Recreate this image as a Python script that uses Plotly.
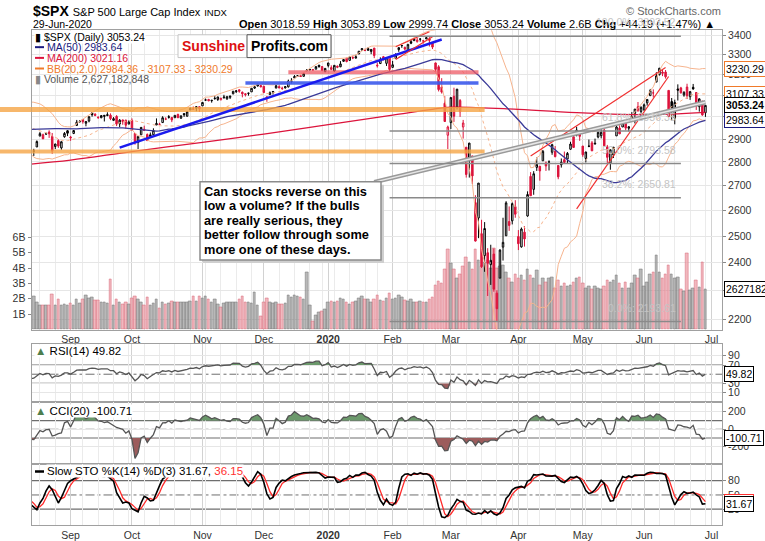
import numpy as np
import pandas as pd
import plotly.graph_objects as go

W, H = 765, 541
FONT = "Arial, Liberation Sans, sans-serif"
RED = "#dc143c"

# ---- trading calendar (NYSE holidays inside the window)
holidays = ["2019-07-04", "2019-09-02", "2019-11-28", "2019-12-25",
            "2020-01-01", "2020-01-20", "2020-02-17", "2020-04-10", "2020-05-25"]
dates = pd.bdate_range("2019-06-03", "2020-06-29", freq="C", holidays=holidays)

# ---- daily OHLC, one line per month (Jun 2019 .. Jun 2020)
open_ = [
    2752, 2763, 2818, 2829, 2853, 2886, 2903, 2883, 2886, 2887, 2890, 2907, 2921, 2950, 2953, 2951, 2946, 2926, 2920, 2933,
    2971, 2965, 2978, 2984, 2980, 2966, 2989, 3000, 3003, 3018, 3012, 3005, 2979, 3004, 2982, 2995, 2999, 3016, 3013, 3024, 3008, 3016,
    2980, 2944, 2898, 2861, 2859, 2896, 2931, 2907, 2881, 2894, 2846, 2865, 2913, 2919, 2922, 2931, 2911, 2867, 2893, 2861, 2910, 2937,
    2909, 2925, 2961, 2980, 2988, 2971, 2981, 3018, 3012, 2996, 2996, 3002, 3010, 3008, 2984, 3002, 2968, 2986, 2985, 2967,
    2984, 2925, 2885, 2919, 2944, 2920, 2911, 2919, 2963, 2966, 2974, 2990, 3001, 2997, 2996, 3011, 2994, 3015, 3003, 3032, 3035, 3040, 3047,
    3051, 3079, 3081, 3075, 3087, 3081, 3080, 3089, 3084, 3091, 3108, 3118, 3127, 3115, 3108, 3111, 3117, 3135, 3145, 3147,
    3144, 3087, 3104, 3119, 3135, 3142, 3135, 3136, 3141, 3167, 3184, 3195, 3195, 3192, 3223, 3226, 3225, 3227, 3247, 3240, 3215,
    3245, 3226, 3218, 3242, 3239, 3266, 3282, 3271, 3285, 3282, 3303, 3324, 3321, 3330, 3316, 3333, 3247, 3255, 3289, 3256, 3282,
    3236, 3281, 3325, 3345, 3336, 3318, 3366, 3371, 3366, 3378, 3369, 3380, 3380, 3361, 3258, 3239, 3140, 3063, 2917,
    2974, 3096, 3046, 3076, 2954, 2864, 2813, 2826, 2631, 2570, 2509, 2426, 2437, 2393, 2432, 2291, 2344, 2458, 2501, 2556, 2559, 2615,
    2498, 2459, 2515, 2578, 2739, 2685, 2777, 2782, 2805, 2796, 2799, 2842, 2846, 2785, 2788, 2810, 2813, 2855, 2910, 2918, 2931,
    2869, 2815, 2869, 2883, 2878, 2909, 2915, 2940, 2866, 2795, 2830, 2914, 2949, 2954, 2970, 2948, 3004, 3016, 3047, 3025,
    3031, 3065, 3099, 3112, 3164, 3200, 3213, 3213, 3124, 3071, 2994, 3131, 3136, 3102, 3140, 3094, 3139, 3114, 3047, 3073, 3019,
]
high = [
    2763, 2804, 2827, 2852, 2885, 2905, 2911, 2889, 2895, 2894, 2897, 2931, 2932, 2958, 2964, 2955, 2947, 2933, 2929, 2944,
    2978, 2973, 2996, 2994, 2981, 2982, 3003, 3002, 3014, 3018, 3015, 3005, 2998, 3006, 2991, 3006, 3020, 3016, 3028, 3026, 3017, 3017,
    3014, 2946, 2898, 2884, 2892, 2939, 2936, 2908, 2943, 2894, 2857, 2894, 2931, 2924, 2929, 2939, 2927, 2879, 2899, 2890, 2931, 2940,
    2914, 2939, 2986, 2985, 2989, 2979, 3001, 3021, 3017, 3002, 3006, 3008, 3021, 3016, 2999, 3008, 2990, 2987, 2987, 2984,
    2993, 2925, 2911, 2954, 2960, 2925, 2929, 2948, 2993, 2973, 3003, 2998, 3008, 3000, 3007, 3015, 3005, 3016, 3027, 3044, 3048, 3050, 3047,
    3067, 3085, 3084, 3078, 3098, 3093, 3088, 3103, 3098, 3098, 3120, 3124, 3128, 3119, 3110, 3113, 3134, 3143, 3154, 3150,
    3144, 3095, 3119, 3119, 3151, 3149, 3142, 3144, 3176, 3183, 3198, 3198, 3198, 3205, 3226, 3228, 3226, 3240, 3248, 3241, 3232,
    3258, 3246, 3247, 3245, 3267, 3276, 3283, 3288, 3294, 3299, 3317, 3330, 3330, 3338, 3327, 3333, 3259, 3286, 3293, 3286, 3282,
    3268, 3307, 3338, 3348, 3341, 3352, 3376, 3381, 3385, 3381, 3375, 3394, 3389, 3361, 3260, 3247, 3183, 3097, 2960,
    3091, 3137, 3131, 3083, 2986, 2864, 2883, 2826, 2661, 2711, 2563, 2554, 2454, 2467, 2453, 2301, 2450, 2571, 2637, 2616, 2632, 2641,
    2523, 2533, 2538, 2677, 2757, 2761, 2819, 2782, 2852, 2802, 2807, 2879, 2869, 2786, 2815, 2845, 2843, 2888, 2921, 2955, 2931,
    2869, 2844, 2898, 2891, 2902, 2932, 2944, 2946, 2874, 2853, 2865, 2968, 2964, 2980, 2979, 2957, 3022, 3036, 3069, 3049,
    3062, 3081, 3131, 3129, 3212, 3233, 3223, 3223, 3124, 3088, 3080, 3153, 3141, 3120, 3156, 3121, 3155, 3115, 3086, 3074, 3054,
]
low = [
    2729, 2755, 2801, 2822, 2853, 2886, 2879, 2875, 2882, 2880, 2887, 2905, 2911, 2932, 2947, 2944, 2916, 2913, 2919, 2929,
    2952, 2956, 2978, 2968, 2970, 2963, 2985, 2989, 3002, 3009, 3001, 2984, 2973, 2976, 2977, 2989, 2997, 2997, 3013, 3014, 3001, 2958,
    2945, 2914, 2822, 2847, 2826, 2894, 2900, 2873, 2877, 2840, 2826, 2865, 2913, 2900, 2918, 2905, 2835, 2856, 2861, 2853, 2906, 2913,
    2892, 2922, 2961, 2973, 2969, 2957, 2975, 3001, 3003, 2991, 2994, 2979, 3003, 2985, 2982, 2958, 2953, 2964, 2946, 2967,
    2939, 2875, 2856, 2919, 2936, 2893, 2907, 2917, 2963, 2963, 2974, 2985, 2992, 2976, 2995, 2995, 2991, 3000, 3002, 3032, 3035, 3026, 3023,
    3051, 3075, 3072, 3066, 3080, 3074, 3076, 3085, 3079, 3083, 3105, 3112, 3113, 3091, 3095, 3099, 3117, 3131, 3143, 3139,
    3111, 3070, 3103, 3104, 3135, 3135, 3126, 3133, 3138, 3157, 3184, 3191, 3191, 3192, 3216, 3222, 3221, 3227, 3234, 3217, 3212,
    3236, 3222, 3215, 3232, 3237, 3264, 3261, 3268, 3277, 3281, 3303, 3319, 3317, 3320, 3302, 3282, 3235, 3253, 3272, 3243, 3215,
    3236, 3281, 3314, 3334, 3322, 3318, 3353, 3370, 3361, 3366, 3356, 3379, 3341, 3328, 3215, 3119, 3109, 2977, 2856,
    2945, 2977, 3034, 3000, 2902, 2734, 2734, 2707, 2479, 2492, 2381, 2367, 2281, 2320, 2296, 2192, 2344, 2408, 2501, 2520, 2545, 2571,
    2447, 2456, 2460, 2575, 2658, 2663, 2762, 2721, 2805, 2762, 2764, 2831, 2820, 2727, 2776, 2794, 2792, 2853, 2861, 2912, 2892,
    2822, 2798, 2864, 2848, 2876, 2903, 2903, 2870, 2793, 2767, 2817, 2914, 2922, 2954, 2939, 2934, 2988, 2970, 3023, 2999,
    3031, 3052, 3099, 3090, 3164, 3196, 3193, 3181, 2999, 2984, 2966, 3076, 3108, 3094, 3083, 3079, 3127, 3032, 3024, 3005, 3000,
]
close = [
    2744, 2803, 2826, 2843, 2873, 2887, 2886, 2880, 2892, 2887, 2890, 2918, 2926, 2954, 2950, 2945, 2917, 2914, 2925, 2942,
    2964, 2973, 2996, 2990, 2976, 2980, 2993, 3000, 3014, 3014, 3004, 2984, 2995, 2977, 2985, 3005, 3020, 3004, 3026, 3021, 3013, 2980,
    2954, 2932, 2845, 2882, 2884, 2938, 2919, 2883, 2926, 2841, 2848, 2889, 2924, 2901, 2924, 2923, 2847, 2878, 2869, 2888, 2925, 2926,
    2906, 2938, 2976, 2979, 2978, 2979, 3001, 3010, 3007, 2998, 3006, 3007, 3007, 2992, 2992, 2967, 2985, 2978, 2962, 2977,
    2940, 2888, 2911, 2952, 2939, 2893, 2919, 2938, 2970, 2966, 2996, 2990, 2998, 2986, 3007, 2996, 3005, 3010, 3023, 3039, 3037, 3047, 3038,
    3067, 3078, 3075, 3077, 3085, 3093, 3087, 3092, 3094, 3097, 3120, 3122, 3120, 3108, 3104, 3110, 3134, 3141, 3154, 3141,
    3114, 3093, 3113, 3117, 3146, 3136, 3133, 3142, 3169, 3169, 3191, 3193, 3191, 3205, 3221, 3224, 3223, 3240, 3240, 3221, 3231,
    3258, 3235, 3246, 3237, 3253, 3275, 3265, 3288, 3283, 3289, 3317, 3330, 3321, 3322, 3326, 3295, 3244, 3276, 3273, 3284, 3226,
    3249, 3298, 3335, 3346, 3328, 3352, 3358, 3379, 3374, 3380, 3370, 3386, 3373, 3338, 3226, 3128, 3116, 2979, 2954,
    3090, 3003, 3130, 3024, 2972, 2747, 2882, 2741, 2481, 2711, 2386, 2529, 2398, 2409, 2305, 2237, 2447, 2476, 2630, 2541, 2627, 2585,
    2471, 2527, 2489, 2664, 2659, 2750, 2790, 2762, 2846, 2783, 2800, 2875, 2823, 2737, 2799, 2798, 2837, 2878, 2863, 2940, 2912,
    2831, 2843, 2868, 2848, 2881, 2930, 2930, 2870, 2820, 2853, 2864, 2954, 2923, 2972, 2949, 2955, 2992, 3036, 3030, 3044,
    3056, 3081, 3123, 3112, 3194, 3232, 3207, 3190, 3002, 3041, 3067, 3125, 3113, 3115, 3098, 3118, 3131, 3050, 3084, 3009, 3053.24,
]

# ---- volume in billions, from 2019-08-13
vol_start = "2019-08-13"
volume_b = [
    2.05, 2.35, 2.15, 1.75, 1.6, 1.6, 1.55, 1.6, 2.3, 1.55, 1.95, 1.6, 1.65, 1.6,
    1.7, 1.6, 1.95, 1.7, 1.95, 2.25, 2.05, 2.1, 1.9, 1.9, 1.75, 1.8, 1.7, 3.26, 1.6, 2.0, 1.8, 1.65, 1.75, 1.65,
    2.05, 2.15, 2.0, 1.75, 1.6, 2.1, 1.6, 1.7, 1.95, 1.4, 1.75, 1.65, 1.7, 1.85, 1.75, 1.8, 1.75, 1.8, 1.8, 1.85, 2.15, 1.85, 2.15,
    2.05, 2.15, 2.0, 1.8, 1.95, 1.65, 1.45, 1.7, 1.75, 1.75, 1.8, 1.8, 1.95, 2.15, 1.8, 1.75, 1.7, 2.45, 1.6, 0.85,
    1.75, 2.05, 1.75, 1.7, 1.75, 1.65, 1.65, 1.7, 2.2, 2.1, 2.2, 2.15, 2.1, 1.95, 3.7, 1.6, 0.55, 0.95, 1.1, 1.2, 1.3,
    1.75, 1.85, 1.8, 1.85, 2.05, 1.95, 1.75, 1.65, 1.8, 1.85, 2.05, 2.15, 1.95, 2.0, 1.75, 2.0, 2.25, 1.9, 1.85, 2.05, 2.35,
    2.0, 2.05, 2.2, 2.1, 1.9, 1.85, 1.95, 1.8, 1.75, 1.85, 1.8, 1.75, 2.0, 2.1, 2.9, 3.15, 3.0, 3.9, 5.2,
    4.3, 3.9, 3.3, 3.6, 4.1, 4.7, 4.4, 3.9, 5.2, 4.5, 4.1, 4.35, 4.5, 4.0, 5.3, 4.0, 4.1, 4.2, 3.7, 3.3, 3.1, 3.6,
    3.3, 3.5, 3.2, 3.9, 3.5, 3.3, 3.85, 2.9, 3.3, 3.1, 3.3, 3.4, 2.7, 3.2, 2.8, 3.0, 2.8, 2.9, 3.1, 3.3, 3.4,
    3.0, 2.7, 2.8, 2.6, 2.8, 2.7, 2.6, 2.8, 3.2, 3.1, 3.2, 3.5, 3.0, 2.7, 3.1, 2.7, 3.0, 3.55, 3.3, 3.9,
    2.8, 3.1, 3.6, 3.7, 4.8, 3.7, 3.3, 3.6, 4.2, 3.6, 3.3, 3.4, 2.6, 2.5, 4.95, 2.55, 2.7, 3.2, 2.75, 4.4, 2.627,
]

# ---- 200-day MA (its look-back is older than the data above)
ma200_dates = ["2019-08-13", "2019-09-03", "2019-10-01", "2019-11-01", "2019-12-02", "2020-01-02",
               "2020-02-03", "2020-02-21", "2020-03-02", "2020-04-01", "2020-05-01", "2020-06-01", "2020-06-29"]
ma200_vals = [2790, 2808, 2845, 2885, 2922, 2965, 3008, 3035, 3045, 3035, 3018, 3010, 3021.16]

# ---- drawn annotations: horizontal levels (price, from, to), trend lines, fibonacci
h_levels = [  # (price, start date or None = left edge, end date, colour, width)
    (3034, None, "2020-03-17", "rgba(245,165,70,0.8)", 5),
    (2845, None, "2020-03-17", "rgba(245,165,70,0.8)", 4),
    (3212, "2019-12-12", "2020-03-13", "rgba(238,90,100,0.75)", 4),
    (3159, "2019-11-21", "2020-03-13", "rgba(60,90,235,0.9)", 3.5),
]
trend_lines = [  # (d0, p0, d1, p1, colour, width)
    ("2019-09-25", 2862, "2020-02-26", 3377, "#1a1aee", 2.5),
    ("2020-02-04", 3340, "2020-02-20", 3417, "#f03030", 1.2),
    ("2020-02-04", 3275, "2020-02-21", 3391, "#f03030", 1.2),
    ("2020-04-07", 2826, "2020-06-10", 3235, "#f03030", 1.2),
    ("2020-04-29", 2606, "2020-06-11", 3191, "#f03030", 1.2),
]
grey_line = ("2020-01-24", 2715, "2020-06-29", 3068)
fib_from, fib_to = "2020-01-31", "2020-06-17"
fib_levels = [3393.52, 2936.35, 2793.58, 2650.81, 2193.61]
fib_labels = ["100.0%: 3393.52", "61.8%: 2936.35", "50.0%: 2793.58", "38.2%: 2650.81", "0.0%: 2193.61"]

price_ticks = list(range(2200, 3401, 100))
month_starts = ["2019-09-03", "2019-10-01", "2019-11-01", "2019-12-02", "2020-01-02", "2020-02-03",
                "2020-03-02", "2020-04-01", "2020-05-01", "2020-06-01", "2020-07-01"]
month_labels = ["Sep", "Oct", "Nov", "Dec", "<b>2020</b>", "Feb", "Mar", "Apr", "May", "Jun", "Jul"]

note_lines = ["Can stocks reverse on this", "low a volume? If the bulls",
              "are really serious, they", "better follow through some",
              "more one of these days."]

assert len(open_) == len(high) == len(low) == len(close) == len(dates)

# ---------------------------------------------------------------------------
pos = {d.strftime("%Y-%m-%d"): i for i, d in enumerate(dates)}


def xpos(d):
    if d in pos:
        return pos[d]
    return len(dates) - 1 + int(np.busday_count(dates[-1].date(), pd.Timestamp(d).date(),
                                                holidays=holidays))


def px(x):
    return x / W


def py(y):
    return 1 - y / H


df = pd.DataFrame({"o": open_, "h": high, "l": low, "c": close}, index=dates)
c = df["c"]
x_all = np.arange(len(df))
first = xpos(vol_start)
xv = x_all[first:]

# indicators
ma50 = c.rolling(50).mean()
mid = c.rolling(20).mean()
sd = c.rolling(20).std(ddof=0)
bb_up, bb_lo = mid + 2 * sd, mid - 2 * sd
delta = c.diff()
gain = delta.clip(lower=0).ewm(alpha=1 / 14, adjust=False).mean()
loss = (-delta.clip(upper=0)).ewm(alpha=1 / 14, adjust=False).mean()
rsi = 100 - 100 / (1 + gain / loss)
tp = (df["h"] + df["l"] + df["c"]) / 3
md = tp.rolling(20).apply(lambda a: np.abs(a - a.mean()).mean(), raw=True)
cci = (tp - tp.rolling(20).mean()) / (0.015 * md)
ll = df["l"].rolling(14).min()
hh = df["h"].rolling(14).max()
slow_k = (100 * (c - ll) / (hh - ll)).rolling(3).mean()
slow_d = slow_k.rolling(3).mean()

up_day = (c >= c.shift(1)).values
up_day[0] = True

fig = go.Figure()

# volume (base axis y, drawn underneath)
vol = np.array(volume_b) * 1e9
vol_up = up_day[first:]
fig.add_trace(go.Bar(
    x=xv, y=vol, width=0.82, yaxis="y", xaxis="x",
    marker=dict(color=np.where(vol_up, "rgba(160,160,160,0.75)", "rgba(236,160,168,0.75)"),
                line=dict(color=np.where(vol_up, "rgba(110,110,110,0.8)", "rgba(215,100,115,0.8)"),
                          width=0.6)),
    hoverinfo="skip"))

# bollinger + moving averages on price axis y2
bbc = "#f6b48e"
fig.add_trace(go.Scatter(x=xv, y=bb_up.values[first:], yaxis="y2", mode="lines",
                         line=dict(color=bbc, width=1)))
fig.add_trace(go.Scatter(x=xv, y=bb_lo.values[first:], yaxis="y2", mode="lines",
                         line=dict(color=bbc, width=1)))
fig.add_trace(go.Scatter(x=xv, y=mid.values[first:], yaxis="y2", mode="lines",
                         line=dict(color=bbc, width=1, dash="dot")))
fig.add_trace(go.Scatter(x=[xpos(d) for d in ma200_dates], y=ma200_vals, yaxis="y2", mode="lines",
                         line=dict(color=RED, width=1.3, shape="spline")))
fig.add_trace(go.Scatter(x=xv, y=ma50.values[first:], yaxis="y2", mode="lines",
                         line=dict(color="#3a3a98", width=1.3)))

# candles: black when close >= previous close, red otherwise; hollow when close > open
for mask, col in [(up_day, "black"), (~up_day, RED)]:
    sub = df[mask]
    fig.add_trace(go.Candlestick(
        x=x_all[mask], open=sub["o"], high=sub["h"], low=sub["l"], close=sub["c"],
        yaxis="y2", xaxis="x", whiskerwidth=0,
        increasing=dict(line=dict(color=col, width=1), fillcolor="white"),
        decreasing=dict(line=dict(color=col, width=1), fillcolor=col),
        hoverinfo="skip"))

# lower panels
green, brown, ind = "#6b996b", "#9c5c5c", "#555555"


def band_fill(series, level, above, color, xa, ya):
    vals = series.values[first:]
    edge = np.maximum(vals, level) if above else np.minimum(vals, level)
    fig.add_trace(go.Scatter(x=xv, y=np.full(len(xv), level), xaxis=xa, yaxis=ya,
                             mode="lines", line=dict(width=0), hoverinfo="skip"))
    fig.add_trace(go.Scatter(x=xv, y=edge, xaxis=xa, yaxis=ya, mode="lines",
                             line=dict(width=0), fill="tonexty", fillcolor=color,
                             hoverinfo="skip"))


band_fill(rsi, 70, True, green, "x2", "y3")
band_fill(rsi, 30, False, brown, "x2", "y3")
fig.add_trace(go.Scatter(x=xv, y=rsi.values[first:], xaxis="x2", yaxis="y3", mode="lines",
                         line=dict(color=ind, width=1.3)))
band_fill(cci, 100, True, green, "x3", "y4")
band_fill(cci, -100, False, brown, "x3", "y4")
fig.add_trace(go.Scatter(x=xv, y=cci.values[first:], xaxis="x3", yaxis="y4", mode="lines",
                         line=dict(color=ind, width=1.3)))
fig.add_trace(go.Scatter(x=xv, y=slow_d.values[first:], xaxis="x4", yaxis="y5", mode="lines",
                         line=dict(color="#ff2a2a", width=1.3)))
fig.add_trace(go.Scatter(x=xv, y=slow_k.values[first:], xaxis="x4", yaxis="y5", mode="lines",
                         line=dict(color="black", width=1.6)))

# ---------------------------------------------------------------------------
shapes = []
for price, d0, d1, col, w in h_levels:
    if d0 is None:
        shapes.append(dict(type="line", xref="paper", yref="y2", x0=0, x1=px(31.5),
                           y0=price, y1=price, line=dict(color=col, width=w)))
        d0x = 51.0
    else:
        d0x = xpos(d0)
    shapes.append(dict(type="line", xref="x", yref="y2", x0=d0x, x1=xpos(d1),
                       y0=price, y1=price, line=dict(color=col, width=w)))
for d0, p0, d1, p1, col, w in trend_lines:
    shapes.append(dict(type="line", xref="x", yref="y2", x0=xpos(d0), x1=xpos(d1),
                       y0=p0, y1=p1, line=dict(color=col, width=w)))
for w, col in [(4.5, "#9a9a9a"), (1.5, "#e6e6e6")]:
    shapes.append(dict(type="line", xref="x", yref="y2", x0=xpos(grey_line[0]),
                       x1=xpos(grey_line[2]), y0=grey_line[1], y1=grey_line[3],
                       line=dict(color=col, width=w)))
for lv in fib_levels:
    shapes.append(dict(type="line", xref="x", yref="y2", x0=xpos(fib_from), x1=xpos(fib_to),
                       y0=lv, y1=lv, line=dict(color="#8a8a8a", width=1.5)))

# reference levels in the indicator panels
for xa, ya, solid, dash in [("x2", "y3", [70, 30], 50), ("x3", "y4", [100, -100], 0),
                            ("x4", "y5", [80, 20], 50)]:
    for lv in solid:
        shapes.append(dict(type="line", xref=xa + " domain", yref=ya, x0=0, x1=1, y0=lv, y1=lv,
                           line=dict(color="#6e6e6e", width=1.2), layer="below"))
    shapes.append(dict(type="line", xref=xa + " domain", yref=ya, x0=0, x1=1, y0=dash, y1=dash,
                       line=dict(color="#6e6e6e", width=1, dash="dashdot"), layer="below"))

# logo box and comment box
shapes += [
    dict(type="rect", xref="paper", yref="paper", x0=px(178), x1=px(331), y0=py(56), y1=py(33),
         line=dict(color="#c4c4c4", width=1), fillcolor="white"),
    dict(type="rect", xref="paper", yref="paper", x0=px(247), x1=px(331), y0=py(56), y1=py(33),
         line=dict(color="#555", width=1), fillcolor="white"),
    dict(type="rect", xref="paper", yref="paper", x0=px(203), x1=px(384), y0=py(263), y1=py(184),
         line=dict(width=0), fillcolor="#cfcfcf"),
    dict(type="rect", xref="paper", yref="paper", x0=px(200), x1=px(381), y0=py(260), y1=py(181),
         line=dict(color="#8c8c8c", width=1.5), fillcolor="white"),
]
# legend icons
for y, col in [(45.5, "#1a1a80"), (56.3, RED), (67, "#f07a2a")]:
    shapes.append(dict(type="line", xref="paper", yref="paper", x0=px(35), x1=px(44),
                       y0=py(y), y1=py(y), line=dict(color=col, width=2)))
shapes.append(dict(type="line", xref="paper", yref="paper", x0=px(35), x1=px(44),
                   y0=py(473), y1=py(473), line=dict(color="black", width=2.5)))

# ---------------------------------------------------------------------------
ann = []


def text(x, y, s, size=10.5, color="black", anchor="left", bg=None, bold=False):
    ann.append(dict(x=px(x), y=py(y), xref="paper", yref="paper", text=f"<b>{s}</b>" if bold else s,
                    showarrow=False, xanchor=anchor, yanchor="middle",
                    font=dict(size=size, color=color, family=FONT),
                    bgcolor=bg, borderpad=0))


text(32, 9, "<b>$SPX</b> <span style='font-size:11px'>S&P 500 Large Cap Index</span>"
            " <span style='font-size:9.5px'>INDX</span>", size=14)
text(32, 22, "29-Jun-2020", size=10.5)
text(716, 22, "<b>Open</b> 3018.59 <b>High</b> 3053.89 <b>Low</b> 2999.74 <b>Close</b> 3053.24 "
              "<b>Volume</b> 2.6B <b>Chg</b> +44.19 (+1.47%) ▲", size=11, anchor="right")
text(722, 9, "© StockCharts.com", size=11, color="#666", anchor="right")

text(34, 35, "▮ $SPX (Daily) 3053.24", size=10.5, bg="white")
text(46, 45.5, "MA(50) 2983.64", size=10.5, color="#1a1a80")
text(46, 56.3, "MA(200) 3021.16", size=10.5, color=RED)
text(46, 67, "BB(20,2.0) 2984.36 - 3107.33 - 3230.29", size=10.5, color="#f07a2a")
text(34, 77.7, "<span style='color:#888'>▮</span> Volume 2,627,182,848", size=10.5, color="#555")

text(213, 44.5, "Sunshine", size=14, color="#dd1111", anchor="center", bold=True)
text(289, 44.5, "Profits.com", size=14, anchor="center", bold=True)
for i, s in enumerate(note_lines):
    text(203, 190.7 + i * 14.6, s, size=12.8, bold=True)

for lv, lab in zip(fib_levels, fib_labels):
    ann.append(dict(x=xpos(fib_to) - 1, y=np.log10(lv * 1.009), xref="x", yref="y2", text=lab,
                    showarrow=False, xanchor="right", yanchor="bottom",
                    font=dict(size=10.5, color="#c4c4c4", family=FONT)))

# panel titles
text(34, 351.7, "<span style='color:#4e7e4e'>▲</span> RSI(14) 49.82", size=11.5, bg="white")
text(34, 412.3, "<span style='color:#4e7e4e'>▲</span> CCI(20) -100.71", size=11.5, bg="white")
text(46, 472.5, "Slow STO %K(14) %D(3) 31.67, <span style='color:#ff3030'>36.15</span>",
     size=11.5, bg="white")


def tag(y, yref, s, border, bold=False):
    ann.append(dict(x=px(724), xref="paper", y=y, yref=yref, text=f"<b>{s}</b>" if bold else s,
                    showarrow=False, xanchor="left", yanchor="middle",
                    font=dict(size=10.5, color="black", family=FONT),
                    bgcolor="white", bordercolor=border, borderwidth=1, borderpad=1))


tag(np.log10(3230.29), "y2", "3230.29", "#f07a2a")
tag(np.log10(3107.33), "y2", "3107.33", "#f07a2a")
tag(np.log10(3021.16), "y2", "3021.16", RED)
tag(np.log10(2983.64), "y2", "2983.64", "#1a1a80")
tag(np.log10(3053.24), "y2", "3053.24", "black", bold=True)
tag(2.627e9, "y", "2627182", "black")
tag(49.82, "y3", "49.82", "black")
tag(-100.71, "y4", "-100.71", "black")
tag(36.15, "y5", "36.15", "#ff3030")
tag(31.67, "y5", "31.67", "black")

# ---------------------------------------------------------------------------
month_pos = [xpos(d) for d in month_starts]
week_pos = [i for i in range(1, len(dates)) if dates[i].weekday() <= dates[i - 1].weekday()]
xdom = [px(31.5), px(722)]
xrange_ = [xpos("2019-09-03") - 12.75, xpos("2019-09-03") + 212.4]
tickfont = dict(size=10.5, color="#333", family=FONT)


def xaxis(anchor, labels):
    return dict(domain=xdom, range=xrange_, anchor=anchor, matches=None if anchor == "y" else "x",
                tickmode="array", tickvals=month_pos, ticktext=month_labels,
                showticklabels=labels, ticks="", tickfont=tickfont,
                showgrid=True, gridcolor="#d2d2d2", gridwidth=1,
                minor=dict(tickvals=week_pos, showgrid=True, gridcolor="#ebebeb", ticks=""),
                showline=True, linecolor="#a0a0a0", mirror=True, zeroline=False)


def yaxis(dom, rng, vals, texts=None, anchor="x2", gridvals=True):
    return dict(domain=dom, range=rng, anchor=anchor, side="right", tickmode="array",
                tickvals=vals, ticktext=texts if texts else [str(v) for v in vals],
                tickfont=tickfont, ticks="outside", ticklen=3, tickcolor="#888",
                showgrid=gridvals, gridcolor="#e6e6e6", zeroline=False,
                showline=True, linecolor="#a0a0a0", mirror=True)


main_dom = [py(330), py(28.5)]
fig.update_layout(
    width=W, height=H, margin=dict(l=0, r=0, t=0, b=0), autosize=False,
    paper_bgcolor="white", plot_bgcolor="white", showlegend=False,
    font=dict(family=FONT, color="#333"), bargap=0,
    xaxis=xaxis("y", True),
    xaxis2=xaxis("y3", False),
    xaxis3=xaxis("y4", False),
    xaxis4=xaxis("y5", True),
    yaxis=dict(domain=main_dom, range=[0, 19.45e9], side="left", anchor="x",
               tickmode="array", tickvals=[1e9, 2e9, 3e9, 4e9, 5e9, 6e9],
               ticktext=["1B", "2B", "3B", "4B", "5B", "6B"], tickfont=tickfont,
               ticks="outside", ticklen=3, tickcolor="#888", showgrid=False, zeroline=False,
               showline=True, linecolor="#a0a0a0"),
    yaxis2=dict(domain=main_dom, type="log", range=[np.log10(2166.8), np.log10(3424.9)],
                overlaying="y", side="right", anchor="x", tickmode="array",
                tickvals=price_ticks, ticktext=[str(v) for v in price_ticks], tickfont=tickfont,
                ticks="outside", ticklen=3, tickcolor="#888", showgrid=True,
                gridcolor="#e6e6e6", zeroline=False, showline=True, linecolor="#a0a0a0"),
    yaxis3=yaxis([py(403), py(344.5)], [-10.2, 115.6], [10, 30, 70, 90], anchor="x2"),
    yaxis4=yaxis([py(465.5), py(403)], [-398, 312], [-200, 0, 200], anchor="x3"),
    yaxis5=yaxis([py(527), py(465.5)], [-13.5, 115.1], [20, 50, 80], anchor="x4", gridvals=False),
    shapes=shapes, annotations=ann,
)
fig.update_xaxes(rangeslider_visible=False)

fig.write_html("out.html", config={"displayModeBar": False},
               post_script="document.body.style.margin='0';")
